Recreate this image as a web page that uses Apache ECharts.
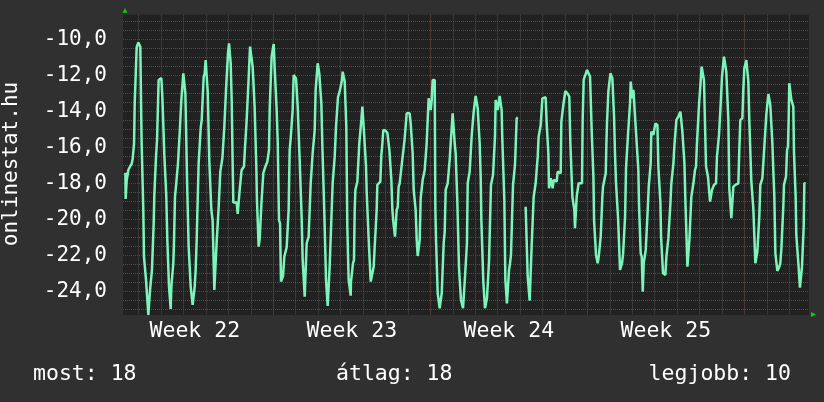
<!DOCTYPE html>
<html>
<head>
<meta charset="utf-8">
<script src="https://cdn.jsdelivr.net/npm/echarts@6/dist/echarts.min.js"></script>
<style>
html, body { margin: 0; padding: 0; background: #303030; }
#chart { width: 824px; height: 402px; }
</style>
</head>
<body>
<div id="chart"></div>
<script>
// hours since monday 00:00 of week 22 (null = no data)
const hours = [
  9.7, 10.0, 11.1, 12.9, 14.7, 16.4, 17.5, 18.2, 19.0, 19.7, 20.7, 21.8, 22.9, 23.6, 24.6, 25.7, 26.4, 27.1, 28.2, 28.9,
  29.6, 30.7, 31.8, 33.2, 34.3, 35.4, 36.1, 37.1, 38.2, 39.3, 40.0, 40.7, 41.8, 42.5, 43.6, 44.6, 45.3, 46.4, 48.2, 49.3,
  50.3, 51.4, 52.5, 53.5, 54.6, 55.7, 56.4, 57.5, 58.2, 58.9, 60.0, 61.0, 61.7, 62.8, 63.9, 65.0, 66.0, 67.1, 67.8, 68.9,
  69.6, 70.7, 71.7, 73.2, 73.9, 74.9, 75.7, 76.7, 77.4, 78.5, 79.6, 80.7, 81.7, 82.8, 83.9, 84.9, 86.0, 87.1, 88.1, 89.2,
  90.3, 91.4, 92.4, 93.5, 94.6, 95.6, 97.1, 97.8, 98.8, 99.6, 100.6, 101.7, 103.1, 104.2, 104.9, 106.7, 107.4, 108.5, 109.5, 110.6,
  111.3, 112.4, 113.5, 114.5, 115.6, 116.7, 117.4, 118.5, 119.5, 120.6, 121.7, 122.4, 123.5, 124.5, 125.2, 127.0, 128.8, 129.9, 131.3, 132.0,
  133.1, 134.1, 135.2, 136.6, 137.7, 138.8, 139.5, 140.6, 141.6, 142.3, 143.1, 144.1, 144.8, 145.9, 147.0, 148.0, 149.1, 149.8, 150.5, 151.6,
  152.3, 153.4, 154.5, 155.2, 156.2, 157.3, 158.4, 159.5, 160.5, 161.6, 162.7, 163.4, 164.1, 165.2, 166.2, 167.3, 168.4, 169.4, 170.5, 171.6,
  172.7, 173.4, 174.1, 175.2, 176.2, 177.3, 178.4, 179.8, 181.2, 182.3, 183.4, 184.4, 185.5, 186.6, 187.6, 188.7, 189.8, 191.2, 192.3, 193.3,
  194.1, 195.1, 196.2, 197.3, 198.3, 199.4, 200.5, 201.6, 202.6, 203.7, 204.8, 205.8, 206.9, 208.0, 209.0, 210.1, 211.2, 212.3, 213.3, 214.4,
  215.5, 216.5, 217.2, 218.3, 219.4, 220.5, 221.5, 222.6, 223.7, 224.4, 225.5, 226.2, 227.6, 228.3, 230.4, 231.5, 232.6, 233.7, 235.1, 236.2,
  237.2, 238.3, 239.4, 240.4, 241.5, 242.2, 243.3, 244.4, 245.4, 246.1, 247.2, 247.9, 248.6, 249.7, 250.8, 251.1, 252.2, 253.3, 254.3, 255.1,
  255.8, 256.8, 257.9, 259.0, 260.0, 261.1, 262.2, 263.3, 264.3, 265.0, 266.1, 267.2, 267.9, 269.0, 270.0, 271.1, 272.2, 274.3, 275.4, 276.5,
  277.5, 278.6, 279.3, 280.4, 282.5, 283.6, 284.7, 285.7, 286.8, 287.9, 288.9, 290.0, 291.1, 292.2, 293.2, 294.3, 295.4, 296.4, 297.5, 298.2,
  299.3, 300.0, 301.1, 302.1, 303.2, 304.3, 305.4, 306.4, 307.5, 308.6, 309.6, 310.7, 311.8, 312.8, 313.9, 315.0, 316.0, 317.1, 318.2, 319.3,
  320.3, 321.4, 322.5, 323.5, 324.6, 325.7, 326.8, 327.8, 328.9, 330.0, 331.0, 332.1, 333.2, 334.2, 335.3, 336.4, 337.5, 338.5, 339.6, 340.7,
  341.4, 342.1, 343.2, 343.9, 344.9, 346.0, 347.1, 348.2, 349.2, 350.3, 351.4, 352.4, 353.5, 354.6, 355.6, 356.7, 357.8, 358.9, 359.9, 361.0,
  362.1, 363.1, 364.2, 364.9, 366.0, 366.7, 367.8, 368.8, 369.9, 371.0, 372.0, 373.1, 374.2, 375.2, 376.0, 377.0, 378.1, 379.2, 380.2, 381.3,
  382.4, 383.4, 384.5, 385.6, 386.7, 387.7, 388.8, 389.9, 390.6, 391.6, 392.7, 393.8, 394.5, 395.6, 396.6, 397.7, 398.8, 399.9, 400.9, 402.0,
  403.1, 404.1, 405.2, 405.9, 407.0, 408.1, 409.1, 410.2, 411.3, 412.3, 413.0, 414.1, 415.2, 416.3, 417.3, 418.0, 419.1, 420.2, 421.3, 422.3,
  423.4, 424.5, 425.5, 426.6, 427.7, 428.4, 429.5, 433.0, 438.0, 439.4, 440.2, 441.2, 442.3, 443.4, 444.4, 445.5, 446.6, 447.6, 448.7, 449.8,
  450.9, 451.9, 453.0, 454.1, 455.1, 455.9, 457.3, 459.4, 460.5, 461.6, 462.3, 463.0, 464.1, 464.8, 465.8, 466.9, 468.0, 471.2, 472.3, 475.5,
  476.2, 477.3, 478.3, 479.4, 480.5, 481.5, 482.6, 484.7, 485.8, 486.9, 488.0, 489.0, 490.1, 490.8, 491.9, 492.6, 493.7, 494.7, 498.3, 499.0,
  500.1, 501.2, 502.6, 503.7, 504.8, 505.8, 506.9, 508.0, 508.7, 509.8, 510.5, 511.2, 512.3, 513.3, 514.4, 515.1, 516.2, 517.2, 518.3, 519.4,
  520.1, 520.8, 521.9, 522.9, 523.7, 524.4, 525.1, 525.8, 526.5, 527.6, 528.7, 529.7, 530.8, 531.5, 532.6, 533.6, 534.7, 535.8, 536.9, 537.9,
  539.0, 540.1, 541.1, 542.2, 543.3, 544.4, 545.4, 546.5, 547.6, 548.6, 549.7, 550.4, 551.5, 552.2, 553.3, 555.4, 556.5, 557.6, 558.6, 559.3,
  560.4, 561.1, 562.2, 563.3, 564.3, 565.4, 566.5, 567.5, 568.6, 569.7, 570.8, 571.8, 572.5, 573.6, 574.7, 575.7, 576.8, 577.9, 579.0, 580.0,
  581.1, 582.2, 582.9, 583.9, 585.0, 586.1, 587.5, 588.6, 589.7, 590.7, 591.8, 592.9, 593.9, 595.0, 596.1, 597.1, 598.2, 599.3, 600.4, 601.4,
  602.5, 603.6, 604.6, 605.7, 606.8, 607.9, 608.9, 610.0, 611.1, 612.1, 613.2, 614.3, 615.3, 616.4, 617.5, 618.5, 619.2, 620.3, 621.3, 622.4,
  623.5, 624.6, 625.6, 626.3, 627.8, 628.8, 629.9, 631.0, 632.0, 633.1, 634.2, 635.3, 636.3, 637.4, 638.5, 639.5, 641.7, 642.7, 643.8, 644.9,
  645.9, 647.0, 648.1, 649.2, 650.2, 651.7, 652.7, 653.8, 654.9, 655.9, 657.0, 658.1, 659.2, 660.2, 661.3, 662.4, 665.6, 666.6, 667.7, 669.9,
  670.9, 672.0, 673.1, 674.1, 675.2, 676.3, 677.3, 678.4, 679.5, 680.6, 681.6, 682.7, 683.8, 684.8, 685.9, 687.0, 688.0, 689.1, 690.2, 691.3,
  692.3, 693.4, 694.5, 695.5, 696.6, 697.7, 698.7, 699.8, 700.9, 702.0, 703.0, 704.1, 705.2, 706.2, 707.3, 708.4, 709.4, 710.5, 711.6, 712.7,
  713.7, 714.4, 715.5, 716.6, 717.7, 718.7, 719.4, 720.1, 721.2, 722.3, 723.4, 724.4, 725.1, 726.2, 726.9, 727.6, 728.7, 729.8, 730.8, 731.5,
  732.6, 733.7, 734.8, 735.5, 736.2, 737.6
];
const temps = [
  -17.41, -18.87, -17.85, -17.26, -17.07, -16.93, -16.65, -16.61, -15.78, -13.55, -13.52, -10.44, -10.41, -10.18, -10.17, -10.41, -13.18, -15.74, -15.78, -19.48,
  -22.07, -22.11, -23.37, -23.41, -25.31, -25.31, -23.93, -23.89, -22.78, -22.72, -20.22, -18.65, -18.59, -16.52, -15.59, -15.56, -12.26, -12.17, -12.15, -13.22,
  -13.28, -16.43, -16.48, -18.74, -21.15, -21.19, -23.74, -23.78, -24.98, -23.74, -23.74, -22.44, -21.33, -18.74, -18.15, -18.09, -16.89, -16.89, -15.22, -15.13,
  -13.37, -13.28, -11.89, -11.93, -13.00, -15.59, -17.81, -17.85, -21.48, -21.52, -23.74, -23.78, -24.76, -24.76, -23.74, -22.81, -21.15, -21.11, -16.89, -16.80,
  -14.94, -14.48, -14.44, -12.07, -11.89, -11.15, -11.11, -12.91, -12.96, -16.89, -16.93, -19.48, -20.07, -20.07, -23.93, -23.93, -21.24, -21.20, -19.35, -19.30,
  -17.35, -17.26, -16.61, -16.57, -14.85, -14.89, -12.81, -12.78, -10.78, -10.22, -10.22, -11.33, -13.46, -16.89, -19.06, -19.06, -19.06, -19.70, -19.70, -18.37,
  -18.28, -17.26, -17.17, -17.07, -16.02, -15.96, -14.48, -14.39, -12.17, -12.07, -10.41, -10.31, -10.41, -11.52, -11.61, -13.74, -13.83, -17.07, -18.93, -18.96,
  -21.52, -21.11, -21.11, -19.20, -19.11, -17.44, -17.41, -17.07, -16.98, -16.80, -16.80, -16.15, -13.93, -13.83, -10.96, -10.96, -10.26, -11.52, -11.52, -13.93,
  -15.68, -15.78, -20.04, -20.22, -23.46, -23.46, -23.15, -22.07, -21.98, -21.56, -21.52, -19.48, -16.15, -15.50, -15.46, -13.93, -11.98, -11.98, -12.17, -12.17,
  -13.74, -13.78, -16.70, -16.74, -19.85, -22.26, -22.30, -24.30, -24.30, -21.33, -21.33, -20.96, -20.96, -18.00, -18.00, -16.33, -16.30, -15.04, -12.81, -12.81,
  -11.33, -11.33, -11.89, -11.89, -13.56, -15.96, -16.00, -19.67, -19.76, -23.37, -23.41, -24.81, -24.81, -22.63, -22.54, -18.00, -17.96, -16.52, -14.85, -14.85,
  -13.22, -13.18, -12.81, -12.81, -12.26, -11.80, -11.80, -12.35, -12.41, -14.85, -20.41, -20.50, -23.37, -23.46, -24.24, -23.46, -23.41, -22.44, -22.26, -19.48,
  -18.37, -18.37, -17.91, -17.85, -15.78, -15.68, -14.48, -13.74, -13.70, -15.13, -15.22, -17.07, -18.46, -18.56, -21.06, -21.11, -23.46, -23.52, -22.63, -21.52,
  -21.48, -19.48, -18.09, -18.04, -17.91, -16.43, -15.78, -15.04, -15.00, -15.07, -15.07, -15.19, -15.22, -16.15, -16.15, -17.81, -19.48, -20.13, -20.22, -20.96,
  -20.96, -19.48, -19.33, -18.19, -18.00, -17.96, -16.98, -16.93, -16.98, -15.50, -15.50, -14.11, -14.07, -14.11, -14.11, -14.67, -14.70, -16.33, -18.37, -18.28,
  -19.48, -21.11, -22.04, -22.04, -21.15, -18.83, -18.74, -17.81, -17.72, -17.26, -17.17, -15.78, -15.68, -13.28, -13.28, -13.93, -13.37, -12.26, -12.26, -12.26,
  -19.48, -21.15, -21.15, -24.11, -24.20, -24.94, -24.94, -24.11, -24.02, -21.33, -20.68, -18.37, -18.28, -18.00, -18.00, -16.70, -15.78, -15.68, -14.11, -14.11,
  -15.78, -16.33, -16.33, -19.02, -19.02, -22.72, -22.78, -24.48, -24.52, -24.94, -24.94, -23.19, -23.15, -21.33, -18.00, -17.91, -17.35, -17.30, -15.41, -15.31,
  -14.02, -13.93, -13.15, -13.15, -13.83, -13.83, -15.78, -17.63, -20.04, -20.04, -23.46, -23.52, -24.94, -24.94, -24.39, -24.30, -22.35, -22.30, -18.09, -18.00,
  -17.54, -17.44, -15.41, -13.37, -13.41, -13.93, -13.56, -13.15, -13.15, -13.93, -15.50, -15.56, -18.93, -23.37, -23.46, -24.67, -24.67, -22.81, -22.44, -21.98,
  -20.04, -18.09, -18.00, -16.98, -16.89, -14.39, -14.33, null, -19.30, -19.30, -23.19, -23.24, -24.52, -24.52, -21.52, -21.44, -18.74, -18.65, -18.00, -17.91,
  -16.52, -15.41, -15.37, -14.76, -14.67, -13.28, -13.22, -13.22, -14.67, -14.76, -16.33, -18.28, -18.19, -17.72, -17.72, -18.28, -17.81, -17.91, -17.35, -17.44,
  -14.57, -14.48, -13.65, -13.56, -12.87, -12.81, -13.00, -13.18, -15.68, -15.74, -18.74, -18.78, -19.48, -20.50, -20.50, -18.74, -18.65, -18.00, -18.00, -14.48,
  -12.26, -12.07, -11.89, -11.70, -11.61, -11.67, -12.07, -12.17, -15.13, -15.19, -17.63, -20.04, -20.13, -21.98, -22.07, -22.44, -22.07, -22.07, -20.96, -20.96,
  -18.74, -18.19, -18.09, -17.63, -17.44, -15.78, -14.57, -14.48, -12.91, -12.81, -11.89, -11.98, -12.17, -12.26, -14.30, -16.33, -18.00, -18.06, -19.94, -20.00,
  -22.81, -22.81, -22.44, -21.98, -21.89, -19.85, -17.17, -17.07, -15.22, -15.13, -13.56, -12.35, -12.41, -13.28, -12.81, -12.81, -15.50, -15.50, -17.26, -19.20,
  -19.30, -21.89, -22.07, -24.02, -22.44, -22.35, -21.70, -21.70, -19.48, -18.19, -18.09, -16.89, -15.13, -15.07, -15.31, -15.41, -14.67, -14.67, -14.76, -17.07,
  -17.07, -19.11, -20.96, -20.96, -23.00, -23.09, -23.09, -22.07, -21.98, -21.06, -20.96, -19.11, -18.00, -17.96, -16.89, -15.96, -15.87, -14.48, -14.44, -14.30,
  -14.15, -14.02, -14.11, -15.13, -15.19, -16.89, -18.93, -18.96, -22.63, -22.63, -21.15, -21.11, -18.74, -18.65, -18.00, -18.00, -17.26, -17.07, -15.78, -15.68,
  -13.65, -13.56, -12.07, -11.52, -11.52, -12.26, -12.35, -17.07, -17.17, -17.63, -17.72, -19.02, -19.02, -18.37, -18.28, -18.09, -18.00, -16.52, -16.43, -15.31,
  -15.22, -13.28, -12.07, -11.98, -10.96, -10.96, -11.80, -11.85, -14.48, -18.28, -18.37, -19.94, -19.94, -18.19, -18.19, -18.09, -18.00, -16.15, -14.48, -14.39,
  -12.81, -11.61, -11.52, -11.15, -11.15, -12.35, -14.48, -14.57, -17.91, -17.96, -19.39, -19.44, -22.44, -22.35, -21.80, -21.70, -19.85, -18.09, -18.00, -17.72,
  -17.63, -15.96, -15.87, -14.20, -14.11, -13.04, -13.09, -13.65, -13.65, -15.78, -17.26, -18.74, -21.89, -21.98, -22.87, -22.81, -22.63, -22.44, -21.67, -21.61,
  -19.30, -18.09, -18.00, -17.63, -16.15, -15.96, -14.48, -12.44, -12.48, -13.37, -13.28, -13.74, -16.24, -16.33, -18.74, -20.87, -20.96, -22.44, -22.54, -23.80,
  -23.80, -22.63, -22.54, -20.41, -18.00, -18.00
];
const weekNames = ['Week 22', 'Week 23', 'Week 24', 'Week 25'];
const footerTexts = ['most: 18', 'átlag: 18', 'legjobb: 10'];
const titleText = 'onlinestat.hu';

// layout of the rrd style plot
const X_ORIGIN = 116.3;          // pixel of hour 0
const PX_PER_HOUR = 22.43 / 24;
const SPAN_H = 744;              // 31 days
const Y_AT_M10 = 39.3;           // pixel of -10,0
const PX_PER_DEG = 18;
const PLOT = { left: 123, top: 14.7, right: 809, bottom: 315 };
const FONT = '"DejaVu Sans Mono", monospace';

function yPix(v) { return Y_AT_M10 + (-10 - v) * PX_PER_DEG; }
function gridX() { return { left: X_ORIGIN, width: SPAN_H * PX_PER_HOUR }; }
function gridY(max, min) { return { top: yPix(max), height: (max - min) * PX_PER_DEG }; }

const minorColor = '#4f4f4f';
const majorColor = '#7a3434';
const dummy = (i) => ({ type: 'value', gridIndex: i, min: 0, max: 1, show: false });

let chart = echarts.init(document.getElementById('chart'), null, { renderer: 'canvas' });
let option = {
  backgroundColor: '#303030',
  animation: false,
  textStyle: { fontFamily: FONT },
  grid: [
    // 0 plot background
    { left: PLOT.left, top: PLOT.top, width: PLOT.right - PLOT.left, height: PLOT.bottom - PLOT.top,
      show: true, backgroundColor: '#212121', borderWidth: 0, outerBoundsMode: 'none' },
    // 1 minor horizontal grid (every 0,5)
    Object.assign({ left: PLOT.left, width: PLOT.right - PLOT.left, outerBoundsMode: 'none' }, gridY(-9, -25)),
    // 2 major horizontal grid + labels
    Object.assign({ left: PLOT.left, width: PLOT.right - PLOT.left, outerBoundsMode: 'none' }, gridY(-10, -24)),
    // 3 vertical grid lines
    Object.assign({ top: PLOT.top, height: PLOT.bottom - PLOT.top, outerBoundsMode: 'none' }, gridX()),
    // 4 week labels
    Object.assign({ top: PLOT.top, height: PLOT.bottom - PLOT.top, outerBoundsMode: 'none' }, gridX()),
    // 5 data
    Object.assign({ outerBoundsMode: 'none' }, gridX(), gridY(-8, -26))
  ],
  xAxis: [
    dummy(0), dummy(1), dummy(2),
    {
      type: 'value', gridIndex: 3, min: 0, max: SPAN_H, interval: 24, position: 'bottom', z: 1,
      axisLine: { show: false }, axisTick: { show: false }, axisLabel: { show: false },
      splitLine: { show: true, showMinLine: false, showMaxLine: false,
        lineStyle: { color: minorColor, type: [1, 1], width: 1 } }
    },
    {
      type: 'value', gridIndex: 3, min: 0, max: SPAN_H, interval: 168, position: 'top', z: 2,
      axisLine: { show: false }, axisTick: { show: false }, axisLabel: { show: false },
      splitLine: { show: true, showMinLine: false, showMaxLine: false,
        lineStyle: { color: majorColor, type: [1, 1], width: 1 } }
    },
    {
      type: 'value', gridIndex: 4, min: 0, max: SPAN_H, interval: 84, position: 'bottom',
      axisLine: { show: false }, axisTick: { show: false }, splitLine: { show: false },
      axisLabel: {
        show: true, color: '#ffffff', fontFamily: FONT, fontSize: 21.5, margin: 16, verticalAlign: 'middle',
        formatter: function (v) {
          if ((v - 84) % 168 === 0) return weekNames[(v - 84) / 168] || '';
          return '';
        }
      }
    },
    { type: 'value', gridIndex: 5, min: 0, max: SPAN_H, show: false }
  ],
  yAxis: [
    dummy(0),
    {
      type: 'value', gridIndex: 1, min: -25, max: -9, interval: 0.5, z: 1,
      axisLine: { show: false }, axisTick: { show: false }, axisLabel: { show: false },
      splitLine: { show: true, lineStyle: { color: minorColor, type: [1, 1], width: 1 } }
    },
    {
      type: 'value', gridIndex: 2, min: -24, max: -10, interval: 2, z: 2,
      axisLine: { show: false }, axisTick: { show: false },
      axisLabel: {
        color: '#ffffff', fontFamily: FONT, fontSize: 21, margin: 16,
        formatter: function (v) { return v.toFixed(1).replace('.', ','); }
      },
      splitLine: { show: true, lineStyle: { color: majorColor, type: [1, 1], width: 1 } }
    },
    dummy(3), dummy(4),
    { type: 'value', gridIndex: 5, min: -26, max: -8, show: false }
  ],
  series: [
    {
      type: 'line',
      xAxisIndex: 6,
      yAxisIndex: 5,
      z: 5,
      showSymbol: false,
      connectNulls: false,
      lineStyle: { color: '#7cf4bc', width: 2.5 },
      data: hours.map((h, i) => [h, temps[i]])
    }
  ],
  graphic: [
    { type: 'text', x: 12, y: 164, rotation: Math.PI / 2,
      style: { text: titleText, fill: '#ffffff', font: '21px ' + FONT, textAlign: 'center', textVerticalAlign: 'middle' } },
    { type: 'text', x: 33, y: 374,
      style: { text: footerTexts[0], fill: '#ffffff', font: '21.5px ' + FONT, textAlign: 'left', textVerticalAlign: 'middle' } },
    { type: 'text', x: 336, y: 374,
      style: { text: footerTexts[1], fill: '#ffffff', font: '21.5px ' + FONT, textAlign: 'left', textVerticalAlign: 'middle' } },
    { type: 'text', x: 791, y: 374,
      style: { text: footerTexts[2], fill: '#ffffff', font: '21.5px ' + FONT, textAlign: 'right', textVerticalAlign: 'middle' } },
    // axis arrows
    { type: 'polygon', shape: { points: [[122.5, 12.7], [127.5, 12.7], [125, 8]] }, style: { fill: '#00d400' } },
    { type: 'polygon', shape: { points: [[811, 312], [811, 317], [816, 314.5]] }, style: { fill: '#00d400' } }
  ]
};
chart.setOption(option);
</script>
</body>
</html>
